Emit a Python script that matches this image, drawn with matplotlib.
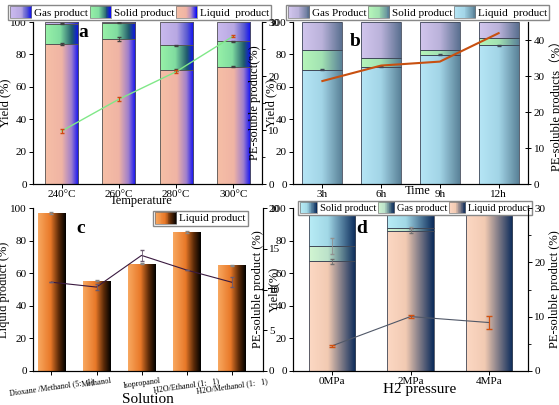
import numpy as np
import matplotlib
matplotlib.use('Agg')
import matplotlib.pyplot as plt
from matplotlib.colors import LinearSegmentedColormap
from matplotlib.legend_handler import HandlerBase
from matplotlib.patches import Rectangle, Patch
from matplotlib.ticker import AutoMinorLocator

plt.rcParams['font.family'] = ['Liberation Serif', 'DejaVu Serif']
plt.rcParams['font.size'] = 8
plt.rcParams['axes.linewidth'] = 0.8

# ---- data ----
# a: temperature
temps = ['240\u00b0C', '260\u00b0C', '280\u00b0C', '300\u00b0C']
a_liquid = [86.5, 89.5, 70.5, 72.5]
a_solid = [12.5, 10.0, 15.0, 15.5]
a_gas = [1.0, 0.5, 14.5, 12.0]
a_pe = [9.8, 15.7, 20.8, 27.4]
a_pe_err = [0.3, 0.4, 0.3, 0.2]
a_liq_err = [0.5, 1.5, 0.5, 0.3]

# b: time
times = ['3h', '6h', '9h', '12h']
b_liquid = [70.5, 72.5, 79.8, 85.5]
b_solid = [12.5, 5.5, 2.7, 4.5]
b_gas = [17.0, 22.0, 17.5, 10.0]
b_pe = [28.6, 32.9, 34.0, 41.9]

# c: solution
solutions = ['Dioxane /Methanol (5:   1)', 'Methanol', 'Isopropanol',
             'H2O/Ethanol (1:   1)', 'H2O/Methanol (1:   1)']
c_liquid = [97.0, 55.5, 66.0, 85.5, 65.0]
c_liq_err = [0.5, 0.5, 0.5, 0.8, 0.3]
c_pe = [10.9, 10.3, 14.2, 12.4, 10.9]
c_pe_err = [0.0, 0.4, 0.7, 0.0, 0.6]

# d: H2 pressure
pressures = ['0MPa', '2MPa', '4MPa']
d_liquid = [67.5, 86.0, 99.3]
d_gas = [9.5, 2.0, 0.2]
d_solid = [23.0, 12.0, 0.5]
d_pe = [4.6, 10.0, 8.9]
d_pe_err = [0.2, 0.2, 1.2]
d_liq_err = [1.5, 1.0, 0.3]
d_gas_err = [5.0, 0.5, 0.2]


def cmap(stops):
    return LinearSegmentedColormap.from_list('g', stops)


a_cm = {'liq': cmap([(0, '#f6bfa6'), (0.5, '#f0b4a4'), (0.78, '#a080cc'), (1, '#0c0cf4')]),
        'sol': cmap([(0, '#98f2a8'), (0.45, '#80dca0'), (0.8, '#205a6c'), (1, '#0c0cf4')]),
        'gas': cmap([(0, '#cabaee'), (0.5, '#b8a8e2'), (0.8, '#5a5ad0'), (1, '#0c0cf4')])}
b_cm = {'liq': cmap([(0, '#b6e6f6'), (0.5, '#a2d4e6'), (1, '#5a8298')]),
        'sol': cmap([(0, '#b6f6ba'), (0.5, '#a2e2b2'), (1, '#5a8298')]),
        'gas': cmap([(0, '#d2c6ee'), (0.5, '#bab2da'), (1, '#5a7090')])}
c_cm = cmap([(0, '#f8a860'), (0.45, '#e87828'), (0.75, '#5a2a08'), (1, '#000000')])
d_cm = {'liq': cmap([(0, '#fcd8c4'), (0.4, '#f2cab2'), (1, '#0a2a5a')]),
        'gas': cmap([(0, '#d2f6d2'), (0.4, '#bce2ca'), (1, '#0a2a5a')]),
        'sol': cmap([(0, '#b8ecf6'), (0.4, '#a2d8e6'), (1, '#0a2a5a')])}


def grad_bars(ax, x, heights, width, cm, bottom=None, ec='#555555'):
    bars = ax.bar(x, heights, width, bottom=bottom, color='none',
                  edgecolor=ec, linewidth=0.6, zorder=3)
    for b in bars:
        x0, y0, w, h = b.get_x(), b.get_y(), b.get_width(), b.get_height()
        im = ax.imshow(np.linspace(0, 1, 128).reshape(1, -1), cmap=cm,
                       aspect='auto', extent=[x0, x0 + w, y0, y0 + h],
                       zorder=2, interpolation='bilinear')
        im.set_clip_path(b)
    return bars


class GradHandler(HandlerBase):
    def __init__(self, cm):
        super().__init__()
        self.cm = cm

    def create_artists(self, legend, orig_handle, xd, yd, width, height,
                       fontsize, trans):
        n = 24
        arts = []
        for i in range(n):
            r = Rectangle((-xd + i * width / n, -yd - 1), width / n + 0.3, height + 2,
                          facecolor=self.cm(i / (n - 1)), edgecolor='none',
                          transform=trans)
            arts.append(r)
        arts.append(Rectangle((-xd, -yd - 1), width, height + 2, facecolor='none',
                              edgecolor='#777777', lw=0.5, transform=trans))
        return arts


def grad_legend(ax, labels, cms, hl=1.9, **kw):
    handles = [Patch(label=l) for l in labels]
    hmap = {h: GradHandler(c) for h, c in zip(handles, cms)}
    leg = ax.legend(handles=handles, handler_map=hmap, fancybox=False,
                    edgecolor='#888888', framealpha=1, handlelength=hl,
                    handleheight=0.9, handletextpad=0.25, borderpad=0.2,
                    columnspacing=0.15, **kw)
    leg.set_zorder(10)
    return leg


def style(ax):
    ax.spines['top'].set_visible(False)
    ax.tick_params(direction='out', length=3, width=0.7, pad=1.5)


fig = plt.figure(figsize=(5.59, 4.05), dpi=100)
W, H = 559, 405


def box(l, r, t, b):
    return [l / W, 1 - b / H, (r - l) / W, (b - t) / H]


# ---------- panel a ----------
ax = fig.add_axes(box(33, 262, 22, 184))
x = np.arange(len(temps))
grad_bars(ax, x, a_liquid, 0.58, a_cm['liq'])
grad_bars(ax, x, a_solid, 0.58, a_cm['sol'], bottom=a_liquid)
grad_bars(ax, x, a_gas, 0.58, a_cm['gas'], bottom=np.add(a_liquid, a_solid))
ax.errorbar(x, a_liquid, yerr=a_liq_err, fmt='none', ecolor='#404040', lw=0.6, capsize=1.5, zorder=4)
ax.errorbar(x, np.add(a_liquid, a_solid), yerr=0.3, fmt='none', ecolor='#404040', lw=0.6, capsize=1.5, zorder=4)
ax.set_xlim(-0.5, 3.5)
ax.set_ylim(0, 100)
ax.set_xticks(x, temps)
ax.set_yticks(range(0, 101, 20))
ax.set_ylabel('Yield (%)', fontsize=9)
ax.yaxis.set_label_coords(-0.095, 0.5)
ax.set_xlabel('Temperature', fontsize=9)
ax.xaxis.set_label_coords(0.47, -0.065)
style(ax)
ax.text(0.2, 0.985, 'a', transform=ax.transAxes, fontsize=14, fontweight='bold', va='top')
ax2 = ax.twinx()
ax2.plot(x, a_pe, color='#80e888', lw=1.0, zorder=5)
ax2.errorbar(x, a_pe, yerr=a_pe_err, fmt='none', ecolor='#d04810', lw=0.8, capsize=1.5, zorder=6)
ax2.set_ylim(0, 30)
ax2.set_yticks([0, 10, 20, 30])
ax2.yaxis.set_minor_locator(AutoMinorLocator(2))
ax2.set_ylabel('PE-soluble product(%)', fontsize=9)
ax2.yaxis.set_label_coords(0.945, 0.5)
style(ax2)
grad_legend(ax, ['Gas product', 'Solid product', 'Liquid  product'],
            [a_cm['gas'], a_cm['sol'], a_cm['liq']], ncol=3, loc='lower center',
            bbox_to_anchor=(0.465, 1.0), borderaxespad=0.2, fontsize=8)

# ---------- panel b ----------
ax = fig.add_axes(box(293, 528, 22, 184))
x = np.arange(len(times))
grad_bars(ax, x, b_liquid, 0.68, b_cm['liq'], ec='#404858')
grad_bars(ax, x, b_solid, 0.68, b_cm['sol'], bottom=b_liquid, ec='#404858')
grad_bars(ax, x, b_gas, 0.68, b_cm['gas'], bottom=np.add(b_liquid, b_solid), ec='#404858')
ax.errorbar(x, b_liquid, yerr=0.4, fmt='none', ecolor='#404858', lw=0.6, capsize=1.5, zorder=4)
ax.set_xlim(-0.5, 3.5)
ax.set_ylim(0, 100)
ax.set_xticks(x, times)
ax.set_yticks(range(0, 101, 20))
ax.set_ylabel('Yield (%)', fontsize=9)
ax.yaxis.set_label_coords(-0.065, 0.5)
ax.set_xlabel('Time', fontsize=9)
ax.xaxis.set_label_coords(0.53, -0.005)
style(ax)
ax.text(0.24, 0.93, 'b', transform=ax.transAxes, fontsize=14, fontweight='bold', va='top')
ax2 = ax.twinx()
ax2.plot(x, b_pe, color='#c85010', lw=1.5, zorder=5)
ax2.set_ylim(0, 45)
ax2.set_yticks([0, 10, 20, 30, 40])
ax2.set_ylabel('PE-soluble products\uff08%\uff09', fontsize=9,
               family=['Liberation Serif', 'Noto Sans CJK SC'])
ax2.yaxis.set_label_coords(1.09, 0.5)
style(ax2)
ax2.tick_params(axis='y', direction='inout', length=5)
grad_legend(ax, ['Gas Product', 'Solid product', 'Liquid  product'],
            [b_cm['gas'], b_cm['sol'], b_cm['liq']], ncol=3, loc='lower center',
            bbox_to_anchor=(0.53, 1.0), borderaxespad=0.2, fontsize=8)

# ---------- panel c ----------
ax = fig.add_axes(box(33, 262.7, 208.3, 370.7))
x = np.arange(len(solutions))
grad_bars(ax, x, c_liquid, 0.6, c_cm, ec='none')
ax.errorbar(x, c_liquid, yerr=c_liq_err, fmt='none', ecolor='#888888', lw=0.6, capsize=1.5, zorder=4)
ax.set_xlim(-0.41, 4.69)
ax.set_ylim(0, 100)
ax.set_xticks(x, solutions, rotation=8, fontsize=5.8)
ax.set_yticks(range(0, 101, 20))
ax.set_ylabel('Liquid product (%)', fontsize=9)
ax.yaxis.set_label_coords(-0.1, 0.5)
ax.set_xlabel('Solution', fontsize=11)
ax.xaxis.set_label_coords(0.5, -0.135)
style(ax)
ax.text(0.19, 0.93, 'c', transform=ax.transAxes, fontsize=14, fontweight='bold', va='top')
ax2 = ax.twinx()
ax2.plot(x, c_pe, color='#3a1a40', lw=0.8, zorder=5)
ax2.errorbar(x, c_pe, yerr=c_pe_err, fmt='none', ecolor='#6a5a70', lw=0.6, capsize=1.5, zorder=5)
ax2.set_ylim(0, 20)
ax2.set_yticks([0, 5, 10, 15, 20])
ax2.set_ylabel('PE-soluble product (%)', fontsize=9)
ax2.yaxis.set_label_coords(0.955, 0.5)
style(ax2)
grad_legend(ax, ['Liquid product'], [c_cm], loc='upper right',
            bbox_to_anchor=(0.935, 0.985), borderaxespad=0, fontsize=8)

# ---------- panel d ----------
ax = fig.add_axes(box(293, 528, 208.3, 370.7))
x = np.arange(len(pressures))
grad_bars(ax, x, d_liquid, 0.59, d_cm['liq'], ec='#404858')
grad_bars(ax, x, d_gas, 0.59, d_cm['gas'], bottom=d_liquid, ec='#404858')
grad_bars(ax, x, d_solid, 0.59, d_cm['sol'], bottom=np.add(d_liquid, d_gas), ec='#404858')
ax.errorbar(x, d_liquid, yerr=d_liq_err, fmt='none', ecolor='#707070', lw=0.6, capsize=1.5, zorder=4)
ax.errorbar(x, np.add(d_liquid, d_gas), yerr=d_gas_err, fmt='none', ecolor='#909090', lw=0.6, capsize=1.5, zorder=4)
ax.set_xlim(-0.5, 2.5)
ax.set_ylim(0, 100)
ax.set_xticks(x, pressures)
ax.set_yticks(range(0, 101, 20))
ax.set_ylabel('Yield(%)', fontsize=9)
ax.yaxis.set_label_coords(-0.055, 0.5)
ax.set_xlabel('H2 pressure', fontsize=11)
ax.xaxis.set_label_coords(0.54, -0.075)
style(ax)
ax.text(0.27, 0.93, 'd', transform=ax.transAxes, fontsize=14, fontweight='bold', va='top')
ax2 = ax.twinx()
ax2.plot(x, d_pe, color='#505868', lw=0.8, zorder=5)
ax2.errorbar(x, d_pe, yerr=d_pe_err, fmt='none', ecolor='#d05010', lw=0.9, capsize=2, zorder=6)
ax2.set_ylim(0, 30)
ax2.set_yticks([0, 10, 20, 30])
ax2.yaxis.set_minor_locator(AutoMinorLocator(2))
ax2.set_ylabel('PE-soluble product (%)', fontsize=9)
ax2.yaxis.set_label_coords(1.09, 0.5)
style(ax2)
grad_legend(ax, ['Solid product', 'Gas product', 'Liquid product'],
            [d_cm['sol'], d_cm['gas'], d_cm['liq']], hl=1.6, ncol=3, loc='center',
            bbox_to_anchor=(0.52, 1.0), borderaxespad=0, fontsize=7.5)

fig.savefig('out.png', dpi=100)
